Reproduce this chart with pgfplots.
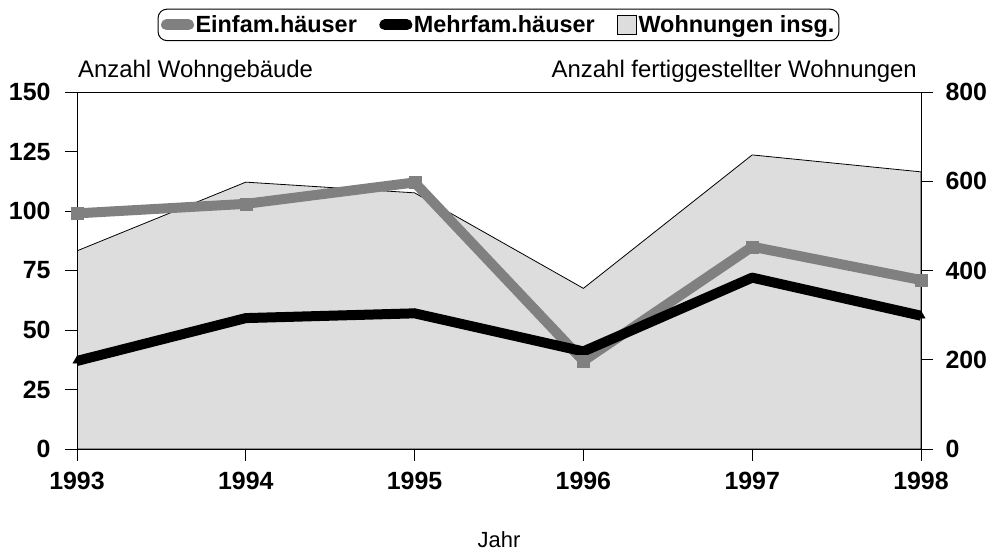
\documentclass[border=0pt]{standalone}
\usepackage{fontspec}
\setmainfont{Liberation Sans}
\usepackage{pgfplots}
\pgfplotsset{compat=1.18}
\definecolor{lgrey}{HTML}{808080}
\definecolor{areagrey}{HTML}{DDDDDD}
\begin{document}
\begin{tikzpicture}
\path[use as bounding box] (0,0) rectangle (996bp,552bp);
\pgfplotsset{
  base/.style={
    scale only axis, width=844bp, height=357bp,
    at={(77bp,103bp)}, anchor=south west,
    xmin=0, xmax=5,
    tick align=outside,
    major tick length=12bp,
    tick style={black, line width=0.8pt},
    ticklabel style={font=\bfseries\fontsize{25}{25}\selectfont},
    /pgf/number format/assume math mode=true,
    axis line style={line width=0.8pt},
  }
}
\begin{axis}[base,
  axis x line=none, axis y line*=right,
  ymin=0, ymax=800, ytick={0,200,400,600,800},
  yticklabel style={xshift=9bp},
]
\addplot[fill=areagrey, draw=black, line width=0.8pt] coordinates {(0,444) (1,598) (2,574) (3,360) (4,659) (5,621)} \closedcycle;
\end{axis}
\begin{axis}[base,
  ymin=0, ymax=150, ytick={0,25,50,75,100,125,150},
  xtick={0,1,2,3,4,5}, xticklabels={1993,1994,1995,1996,1997,1998},
  xtick pos=lower, ytick pos=left,
  yticklabel style={xshift=-11bp},
  xticklabel style={yshift=-8bp},
  legend columns=3,
  legend style={at={(0.4994,1.188)}, anchor=center, draw=black, line width=1pt,
    rounded corners=9bp, font=\bfseries\fontsize{23.5}{23.5}\selectfont,
    inner xsep=3bp, inner ysep=5bp,
    nodes={inner sep=1.5bp},
    /tikz/every even column/.append style={column sep=21bp}},
]
\addplot[lgrey, line width=10bp, mark=square*, mark size=6bp, mark options={line width=0.1pt, fill=lgrey},
  legend image code/.code={\draw[lgrey, line width=11bp, line cap=round, sharp corners] (0bp,0bp) -- (22bp,0bp);}]
  coordinates {(0,99) (1,103) (2,112) (3,37) (4,85) (5,71)};
\addlegendentry{Einfam.häuser}
\addplot[black, line width=10bp, line join=round, mark=triangle*, mark size=5bp, mark options={line width=0.1pt, fill=black},
  legend image code/.code={\draw[black, line width=11bp, line cap=round, sharp corners] (0bp,0bp) -- (22bp,0bp);}]
  coordinates {(0,37) (1,55) (2,57) (3,41) (4,72) (5,56)};
\addlegendentry{Mehrfam.häuser}
\addlegendimage{legend image code/.code={\draw[sharp corners, fill=areagrey, draw=black, line width=0.8pt] (0bp,-9.5bp) rectangle (19bp,9.5bp);}}
\addlegendentry{Wohnungen insg.\hspace{14bp}}
\end{axis}
\node[anchor=base west, font=\fontsize{24}{24}\selectfont, inner sep=0] at (78bp,474bp) {Anzahl Wohngebäude};
\node[anchor=base east, font=\fontsize{24}{24}\selectfont, inner sep=0] at (917bp,474bp) {Anzahl fertiggestellter Wohnungen};
\node[anchor=base, font=\fontsize{22}{22}\selectfont, inner sep=0] at (499bp,5bp) {Jahr};
\end{tikzpicture}
\end{document}
